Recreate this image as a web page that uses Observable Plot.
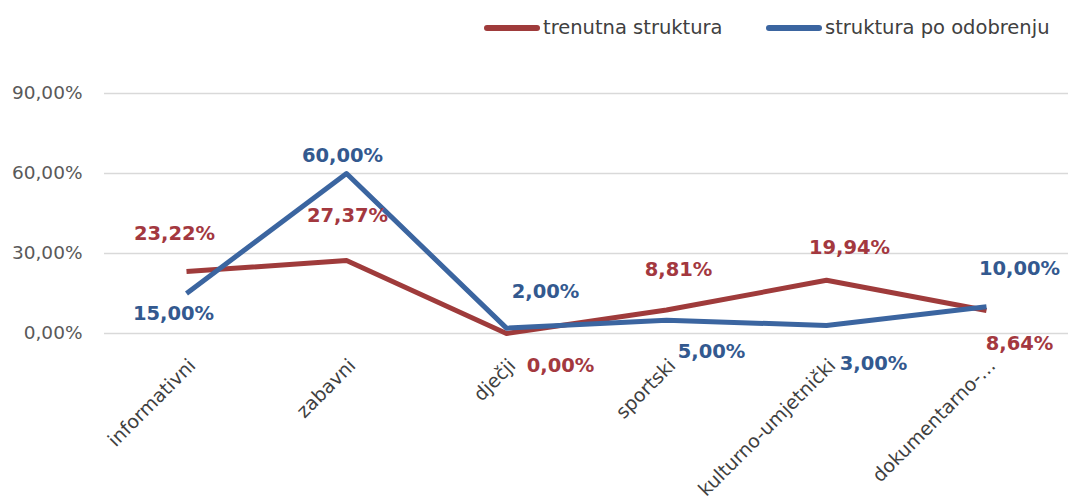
<!DOCTYPE html>
<html><head><meta charset="utf-8">
<script src="https://cdn.jsdelivr.net/npm/d3@7"></script>
<script src="https://cdn.jsdelivr.net/npm/@observablehq/plot@0.6"></script>
<style>
body{margin:0;background:#fff;font-family:"DejaVu Sans",sans-serif;}
#wrap{width:1068px;height:502px;position:relative;overflow:hidden;background:#fff;}
#legend{height:56px;position:relative;}
.item{position:absolute;top:16px;display:flex;align-items:center;font-size:19.5px;color:#404040;white-space:nowrap;}
.sw{width:56px;height:6px;border-radius:3px;margin-right:3px;}
</style></head><body>
<div id="wrap"><div id="legend"></div><div id="chart"></div></div>
<script>
// ---- data ----
const categories = ["informativni", "zabavni", "dječji", "sportski", "kulturno-umjetnički", "dokumentarno-…"];
const seriesNames = ["trenutna struktura", "struktura po odobrenju"];
const trenutna = [23.22, 27.37, 0.00, 8.81, 19.94, 8.64];
const odobrenje = [15.00, 60.00, 2.00, 5.00, 3.00, 10.00];
const yTicks = [0, 30, 60, 90];

// ---- styles / layout ----
const lineColors = ["#9F3B3B", "#3B65A0"];
const labelColors = ["#A3383F", "#33598F"];
const labelOffsets = [
  [[-12, -38], [1, -45], [54, 32], [12, -40], [23, -33], [33, 33]],
  [[-13, 20], [-4, -18], [39, -36], [45, 32], [47, 38], [33, -38]]
];
const legendLeft = [484, 766];

const fmt = v => v.toFixed(2).replace(".", ",") + "%";
const seriesValues = [trenutna, odobrenje];
const rows = [];
seriesValues.forEach((vals, s) => vals.forEach((v, i) => rows.push({cat: categories[i], value: v, series: seriesNames[s], s, i})));

// legend
const legend = document.getElementById("legend");
seriesNames.forEach((name, s) => {
  const it = document.createElement("div");
  it.className = "item";
  it.style.left = legendLeft[s] + "px";
  it.innerHTML = `<span class="sw" style="background:${lineColors[s]}"></span><span>${name}</span>`;
  legend.appendChild(it);
});

const labelMarks = rows.map(r => Plot.text([r], {
  x: "cat", y: "value", text: d => fmt(d.value),
  dx: labelOffsets[r.s][r.i][0], dy: labelOffsets[r.s][r.i][1],
  fill: labelColors[r.s], fontSize: 19.5, fontWeight: "bold"
}));

const chart = Plot.plot({
  width: 1068, height: 446,
  marginTop: 37, marginBottom: 169, marginLeft: 104, marginRight: 0,
  style: {fontFamily: "DejaVu Sans", background: "#fff", overflow: "visible"},
  x: {type: "point", domain: categories, padding: 0.5},
  y: {domain: [0, 90]},
  color: {domain: seriesNames, range: lineColors},
  marks: [
    Plot.gridY(yTicks, {stroke: "#d9d9d9", strokeOpacity: 1, strokeWidth: 1.5}),
    Plot.axisY(yTicks, {tickSize: 0, tickPadding: 22, tickFormat: fmt, fontSize: 18.5, fill: "#595959", label: null}),
    Plot.axisX({tickRotate: -45, tickSize: 0, tickPadding: 29, dx: 6, fontSize: 19, fill: "#404040", label: null}),
    Plot.line(rows, {x: "cat", y: "value", z: "series", stroke: "series", strokeWidth: 5, strokeLinejoin: "round", strokeLinecap: "butt"}),
    ...labelMarks
  ]
});
document.getElementById("chart").appendChild(chart);
</script></body></html>
